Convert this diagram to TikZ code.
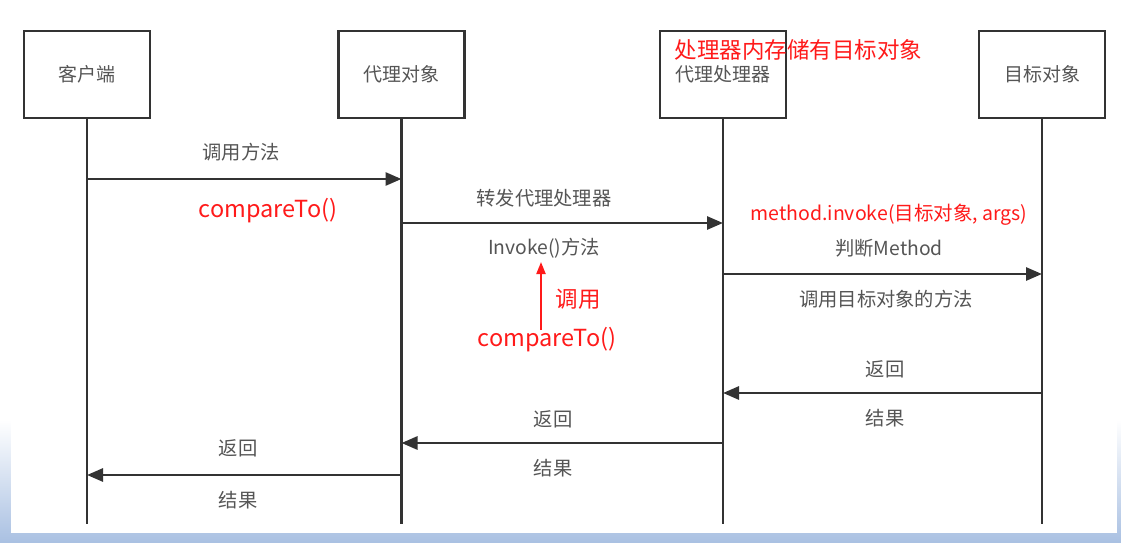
\documentclass[tikz,border=0pt]{standalone}
\usepackage{fontspec}
\setmainfont{Noto Sans CJK SC}
\usetikzlibrary{arrows.meta}
\definecolor{linegray}{HTML}{333333}
\definecolor{textgray}{HTML}{555555}
\definecolor{notered}{HTML}{FF1A1A}
\definecolor{bgblue}{HTML}{A9C0E2}

\begin{document}
\begin{tikzpicture}[x=1pt, y=-1pt,
    actor/.style={draw=linegray, line width=2.6pt, minimum width=126pt, minimum height=87pt,
        text=textgray, font=\fontsize{19}{22}\selectfont},
    life/.style={draw=linegray, line width=2.4pt},
    msg/.style={draw=linegray, line width=2.8pt, -{Triangle[length=16pt, width=13pt]}},
    lbl/.style={text=textgray, font=\fontsize{19.3}{22}\selectfont},
    note/.style={text=notered, font=\fontsize{22.5}{25}\selectfont}]
    \useasboundingbox (0,0) rectangle (1121,543);

    % Hintergrund
    \fill[white] (0,0) rectangle (1121,543);
    \shade[top color=white, bottom color=bgblue] (0,420) rectangle (1121,543);
    \fill[white] (11,0) rectangle (1117,533);

    % Teilnehmer
    \node[actor] (client) at (87,74.5) {客户端};
    \node[actor] (proxy) at (401.5,74.5) {代理对象};
    \node[actor] (handler) at (723,74.5) {代理处理器};
    \node[actor] (target) at (1042,74.5) {目标对象};

    % Lebenslinien
    \coordinate (clientEnd) at (87,524);
    \coordinate (proxyEnd) at (401.5,524);
    \coordinate (handlerEnd) at (723,524);
    \coordinate (targetEnd) at (1042,524);
    \draw[life] (client.south) -- (clientEnd);
    \draw[life] (proxy.south) -- (proxyEnd);
    \draw[life] (handler.south) -- (handlerEnd);
    \draw[life] (target.south) -- (targetEnd);

    % Nachrichten
    \foreach \who/\y in {client/179, proxy/179, proxy/223, handler/223, handler/274, target/274,
                         target/393, handler/393, handler/443, proxy/443, proxy/475, client/475}
        \coordinate (\who-\y) at (\who |- 0,\y);
    \draw[msg] (client-179) -- (proxy-179);
    \draw[msg] (proxy-223) -- (handler-223);
    \draw[msg] (handler-274) -- (target-274);
    \draw[msg] (target-393) -- (handler-393);
    \draw[msg] (handler-443) -- (proxy-443);
    \draw[msg] (proxy-475) -- (client-475);

    % Beschriftungen
    \node[lbl] (callMethod) at (241,152) {调用方法};
    \node[lbl] (forward) at (544,198) {转发代理处理器};
    \node[lbl] (invokeMethod) at (544,248) {Invoke()方法};
    \node[lbl] (judge) at (889,248) {判断Method};
    \node[lbl] (callTarget) at (886,299) {调用目标对象的方法};
    \node[lbl] (ret1) at (885,369) {返回};
    \node[lbl] (res1) at (885,418) {结果};
    \node[lbl] (ret2) at (553,419) {返回};
    \node[lbl] (res2) at (553,468) {结果};
    \node[lbl] (ret3) at (238,448) {返回};
    \node[lbl] (res3) at (238,500) {结果};

    % Anmerkungen in Rot
    \node[note, anchor=west] (holds) at (671,50) {处理器内存储有目标对象};
    \node[note, font=\fontsize{23.5}{26}\selectfont] (cmpOne) at (268,211) {compareTo()};
    \node[note, font=\fontsize{19.5}{22}\selectfont] (invokeNote) at (889,215) {method.invoke(目标对象, args)};
    \node[note] (callNote) at (578,299) {调用};
    \node[note, font=\fontsize{23.5}{26}\selectfont] (cmpTwo) at (547,340) {compareTo()};
    \coordinate (redTip) at (541,262);
    \draw[notered, line width=2pt, -{Triangle[length=12pt, width=9pt]}] (541,330) -- (redTip);
\end{tikzpicture}
\end{document}
